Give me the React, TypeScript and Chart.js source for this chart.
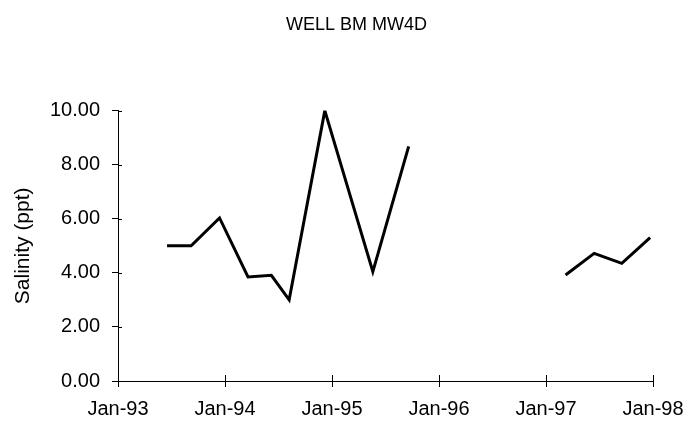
import React, { useEffect, useRef } from "react";
import { Chart, registerables } from "chart.js";

Chart.register(...registerables);

const TITLE = "WELL BM MW4D";
const Y_TITLE = "Salinity (ppt)";
const X_TICK_LABELS = ["Jan-93", "Jan-94", "Jan-95", "Jan-96", "Jan-97", "Jan-98"];
const SAMPLE_DATES = [
  "1993-06-16", "1993-09-07", "1993-12-13", "1994-03-19", "1994-06-07", "1994-08-07",
  "1994-12-07", "1995-05-19", "1995-09-19", "1996-06-01",
  "1997-03-07", "1997-06-13", "1997-09-16", "1997-12-22",
];
const SALINITY: (number | null)[] = [
  5.0, 5.0, 6.03, 3.85, 3.91, 3.0,
  10.0, 4.04, 8.68, null,
  3.92, 4.72, 4.35, 5.3,
];

const FONT = "'Liberation Sans', Arial, Helvetica, sans-serif";

function monthsSince1993(d: string): number {
  const [y, m, day] = d.split("-").map(Number);
  const dim = new Date(y, m, 0).getDate();
  return (y - 1993) * 12 + (m - 1) + (day - 1) / dim;
}

const crossTicks = {
  id: "crossTicks",
  afterDraw(chart: any) {
    const { ctx, chartArea } = chart;
    const xs = chart.scales.x;
    const ys = chart.scales.y;
    ctx.save();
    ctx.strokeStyle = "#000";
    ctx.lineWidth = 1;
    ctx.beginPath();
    ys.ticks.forEach((t: any) => {
      const py = Math.round(ys.getPixelForValue(t.value)) + 0.5;
      ctx.moveTo(chartArea.left, py);
      ctx.lineTo(chartArea.left + 4, py);
    });
    xs.ticks.forEach((t: any) => {
      const px = Math.round(xs.getPixelForValue(t.value)) + 0.5;
      ctx.moveTo(px, chartArea.bottom);
      ctx.lineTo(px, chartArea.bottom - 6);
    });
    ctx.stroke();
    ctx.restore();
  },
};

const shiftTitle = {
  id: "shiftTitle",
  afterLayout(chart: any) {
    const t = chart.titleBlock;
    if (t) {
      t.left += 30;
      t.right += 30;
    }
  },
};

export default function App() {
  const ref = useRef<HTMLCanvasElement | null>(null);
  useEffect(() => {
    if (!ref.current) return;
    const points = SAMPLE_DATES.map((d, i) => ({ x: monthsSince1993(d), y: SALINITY[i] }));
    const chart = new Chart(ref.current, {
      type: "line",
      data: {
        datasets: [
          {
            data: points as any,
            borderColor: "#000",
            borderWidth: 3,
            pointRadius: 0,
            tension: 0,
            spanGaps: false,
          },
        ],
      },
      options: {
        responsive: false,
        animation: false,
        layout: { padding: { left: 0, right: 37, top: 0, bottom: 0 } },
        plugins: {
          legend: { display: false },
          tooltip: { enabled: false },
          title: {
            display: true,
            text: TITLE,
            color: "#000",
            font: { family: FONT, size: 18, weight: "normal" },
            padding: { top: 14, bottom: 75 },
          },
        },
        scales: {
          x: {
            type: "linear",
            min: 0,
            max: 60,
            afterFit: (s: any) => {
              s.height = 44;
              s.paddingLeft = 0;
              s.paddingRight = 0;
            },
            afterBuildTicks: (s: any) => {
              s.ticks = X_TICK_LABELS.map((_, i) => ({ value: i * 12 }));
            },
            ticks: {
              autoSkip: false,
              maxRotation: 0,
              color: "#000",
              padding: 10,
              font: { family: FONT, size: 20 },
              callback: (v: any) => X_TICK_LABELS[Math.round(Number(v) / 12)] ?? "",
            },
            grid: { drawOnChartArea: false, tickLength: 6, color: "#000" },
            border: { color: "#000", width: 1 },
          },
          y: {
            min: 0,
            max: 10,
            afterFit: (s: any) => { s.width = 118; },
            ticks: {
              stepSize: 2,
              color: "#000",
              padding: 12,
              font: { family: FONT, size: 20 },
              callback: (v: any) => Number(v).toFixed(2),
            },
            grid: { drawOnChartArea: false, tickLength: 6, color: "#000" },
            border: { color: "#000", width: 1 },
            title: {
              display: true,
              text: Y_TITLE,
              color: "#000",
              font: { family: FONT, size: 21 },
              padding: { top: 11, bottom: 0 },
            },
          },
        },
      },
      plugins: [crossTicks, shiftTitle],
    });
    return () => chart.destroy();
  }, []);
  return (
    <div style={{ position: "fixed", left: 0, top: 0, width: 690, height: 425, background: "#fff" }}>
      <canvas ref={ref} width={690} height={425} />
    </div>
  );
}
